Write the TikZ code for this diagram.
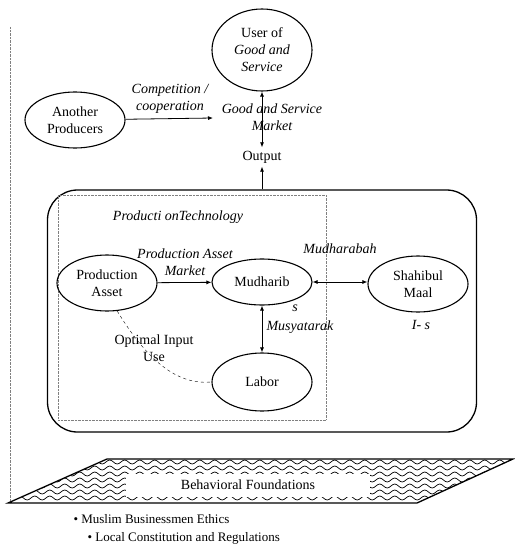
\documentclass[tikz,border=0pt]{standalone}
\usepackage{fontspec}
\setmainfont{Liberation Serif}
\usetikzlibrary{shapes,arrows.meta,positioning,decorations.pathmorphing}

\begin{document}
\begin{tikzpicture}[x=1pt, y=-1pt, >={Latex[length=5pt,width=4pt]},
      every node/.append style={font=\fontsize{14}{17}\selectfont, align=center},
      actor/.style={draw, ellipse, line width=1.1pt, inner sep=0pt,
        minimum width=100pt, minimum height=56pt},
      lbl/.style={font=\fontsize{14}{17}\selectfont\itshape, inner sep=1pt}]
    \useasboundingbox (0,0) rectangle (514,551);
    \draw[densely dotted, gray] (10,27) -- (10,503);

    \node[actor, minimum height=82pt] (user) at (262,50) {User of\\ \textit{Good and}\\ \textit{Service}};
    \node[actor] (another) at (75,120) {Another\\ Producers};
    \coordinate (gsm) at (213,118);
    \node (output) at (262,157) {Output};
    \node[lbl] (compet) at (170,99) {Competition /\\ cooperation};
    \node[lbl] (gsmarket) at (272,117) {Good and Service\\ Market};

    \node[draw, line width=1.3pt, rounded corners=30pt,
      minimum width=429pt, minimum height=242pt] (firm) at (262,311) {};
    \node[draw, densely dotted, gray, minimum width=268pt,
      minimum height=225pt] (tech) at (192,307.5) {};
    \node[lbl] (techlbl) at (178,217) {Producti onTechnology};

    \node[actor] (asset) at (107,283) {Production\\ Asset};
    \node[actor, minimum height=46pt] (mudharib) at (262,282) {Mudharib};
    \node[actor] (shahib) at (418,284) {Shahibul\\ Maal};
    \node[actor, minimum height=58pt] (labor) at (262,382) {Labor};

    \node[lbl] (pamarket) at (185,262) {Production Asset\\ Market};
    \node[lbl] (mudharabah) at (340,249) {Mudharabah};
    \node[lbl] (s1) at (295,308) {s};
    \node[lbl] (musy) at (300,327) {Musyatarak};
    \node[lbl] (s2) at (421,325) {I- s};
    \node (optimal) at (154,348) {Optimal Input\\ Use};

    % connectors
    \draw[->, thick] (another) -- (gsm);
    \draw[<->, thick] (user) -- (output);
    \draw[->, thick] (firm.north) -- (output);
    \draw[->, thick] (asset) -- (mudharib);
    \draw[<->, thick] (mudharib.east) -- (shahib.west |- mudharib.east);
    \draw[<->, thick] (mudharib) -- (labor);
    \draw[dashed] (asset.-70) .. controls (150,365) and (180,385) .. (labor.west);

    % behavioural foundations
    \begin{scope}
      \clip (107,459) -- (513,459) -- (417,503) -- (8,503) -- cycle;
      \foreach \y in {462,468,...,498}
        \draw[line width=0.7pt, decorate,
          decoration={snake, segment length=15pt, amplitude=2pt}] (0,\y) -- (520,\y);
    \end{scope}
    \node[fill=white, minimum width=244pt, minimum height=23pt] (behav) at (248,485) {Behavioral Foundations};
    \draw[line width=1.3pt] (107,459) -- (513,459) -- (417,503) -- (8,503) -- cycle;

    \node[anchor=west, font=\fontsize{13}{16}\selectfont] (ethics) at (70,519) {\textbullet\ Muslim Businessmen Ethics};
    \node[anchor=west, font=\fontsize{13}{16}\selectfont] (rules) at (84,538) {\textbullet\ Local Constitution and Regulations};
\end{tikzpicture}
\end{document}
